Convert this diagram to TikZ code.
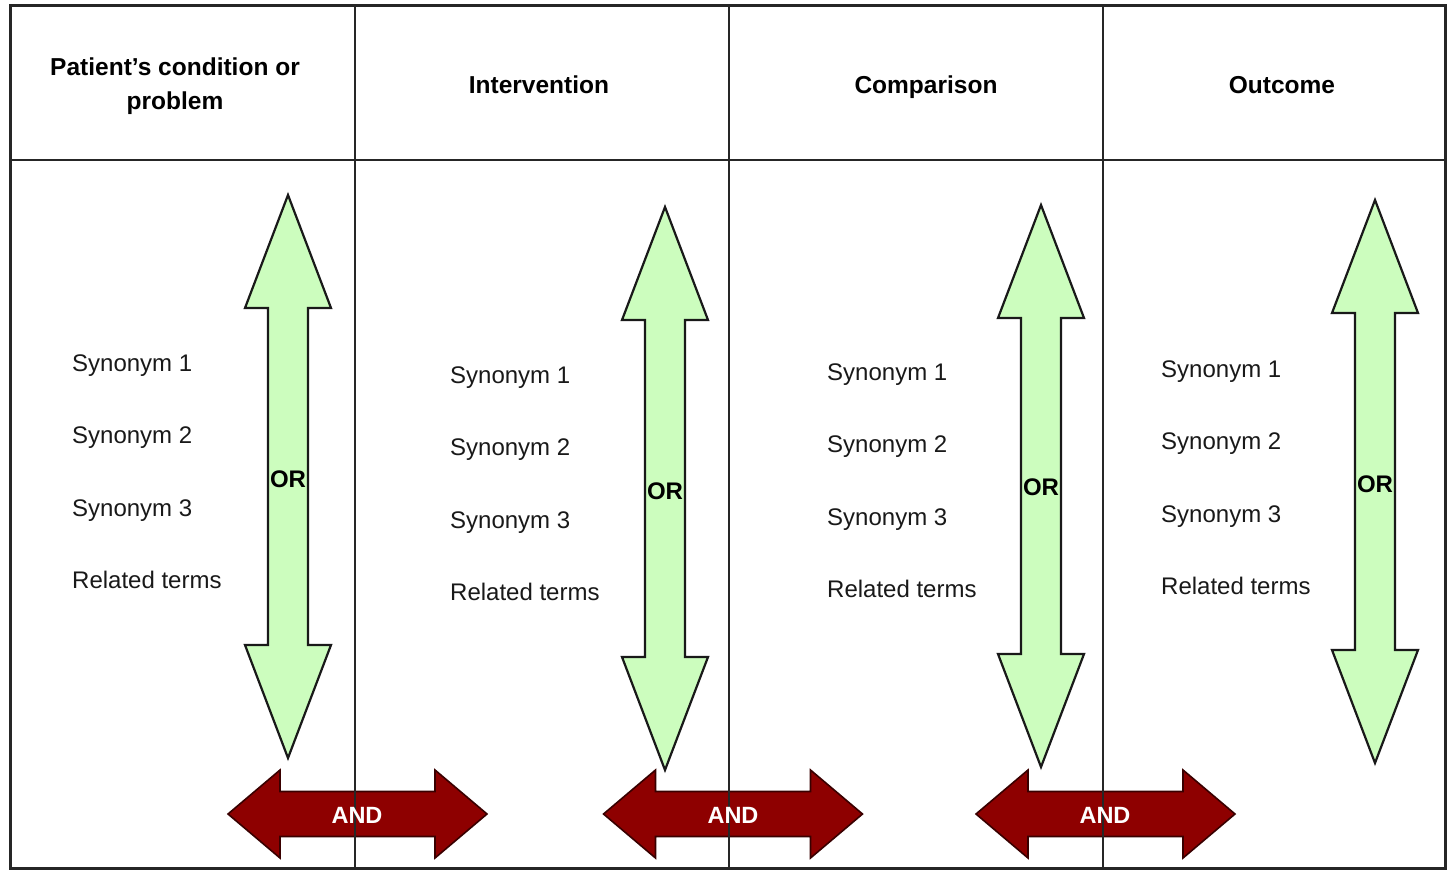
\documentclass[tikz,border=0pt]{standalone}
\usepackage{fontspec}
\setmainfont{Liberation Sans}
\definecolor{orgreen}{HTML}{CCFDBE}
\definecolor{andred}{HTML}{8E0000}
\begin{document}
\begin{tikzpicture}[x=1pt,y=-1pt,
  frame/.style={line width=3pt, draw=black!85},
  gridline/.style={line width=2.5pt, draw=black!85},
  orarrow/.style={fill=orgreen, draw=black!90, line width=2.2pt, line join=miter},
  andarrow/.style={fill=andred, draw=black!60!andred, line width=1.6pt, line join=miter},
  headtext/.style={font=\bfseries\fontsize{24.5}{34}\selectfont, align=center, text=black},
  syn/.style={font=\fontsize{24}{28}\selectfont, anchor=base west, inner sep=0pt, text=black!90},
  orlabel/.style={font=\bfseries\fontsize{24}{27}\selectfont, text=black},
  andlabel/.style={font=\bfseries\fontsize{23.5}{27}\selectfont, text=white}]
\useasboundingbox (0,0) rectangle (1450,872);
\fill[white] (0,0) rectangle (1450,872);

% AND arrows (horizontal, drawn below grid lines)
\foreach \n/\cx in {1/357.5, 2/733, 3/1105.5}{
  \draw[andarrow] (\cx-129.5,814) -- (\cx-77.5,770) -- (\cx-77.5,791.5) -- (\cx+77.5,791.5)
    -- (\cx+77.5,770) -- (\cx+129.5,814) -- (\cx+77.5,858) -- (\cx+77.5,836.5)
    -- (\cx-77.5,836.5) -- (\cx-77.5,858) -- cycle;
}

% frame and grid
\draw[gridline] (10,160) -- (1445,160);
\draw[gridline] (355,6) -- (355,868);
\draw[gridline] (729,6) -- (729,868);
\draw[gridline] (1103,6) -- (1103,868);
\draw[frame] (10,6) rectangle (1445,868);

% OR arrows (vertical)
\foreach \n/\cx/\top/\bot in {1/288/195/758, 2/665/207/770, 3/1041/205/767, 4/1375/200/763}{
  \draw[orarrow] (\cx,\top) -- (\cx+43,\top+113) -- (\cx+20,\top+113) -- (\cx+20,\bot-113)
    -- (\cx+43,\bot-113) -- (\cx,\bot) -- (\cx-43,\bot-113) -- (\cx-20,\bot-113)
    -- (\cx-20,\top+113) -- (\cx-43,\top+113) -- cycle;
}

% OR labels
\node[orlabel] (or1) at (288,479) {OR};
\node[orlabel] (or2) at (665,491) {OR};
\node[orlabel] (or3) at (1041,487) {OR};
\node[orlabel] (or4) at (1375,484) {OR};

% AND labels
\node[andlabel] (and1) at (357,815) {AND};
\node[andlabel] (and2) at (733,815) {AND};
\node[andlabel] (and3) at (1105,815) {AND};

% headers
\node[headtext] (h1) at (175,86) {Patient’s condition or\\problem};
\node[headtext, anchor=base] (h2) at (539,94) {Intervention};
\node[headtext, anchor=base] (h3) at (926,94) {Comparison};
\node[headtext, anchor=base] (h4) at (1282,94) {Outcome};

% synonym lists
\foreach \c/\xx/\yy in {1/72/371, 2/450/383, 3/827/380, 4/1161/377}{
  \node[syn] (s\c a) at (\xx,\yy) {Synonym 1};
  \node[syn] (s\c b) at (\xx,\yy+72.5) {Synonym 2};
  \node[syn] (s\c c) at (\xx,\yy+145) {Synonym 3};
  \node[syn] (s\c d) at (\xx,\yy+217.5) {Related terms};
}
\end{tikzpicture}
\end{document}
